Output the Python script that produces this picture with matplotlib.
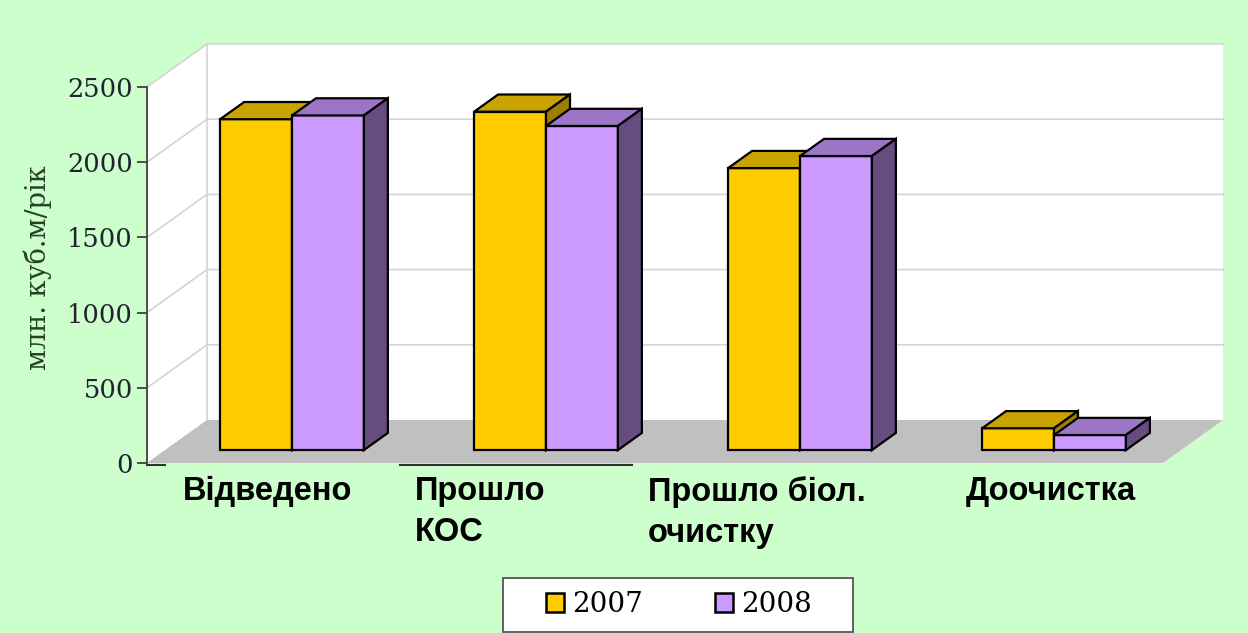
import matplotlib.pyplot as plt
from matplotlib.patches import Polygon, Patch, Rectangle
from matplotlib.transforms import blended_transform_factory

categories = ["Відведено", "Прошло\nКОС", "Прошло біол.\nочистку", "Доочистка"]
years = ["2007", "2008"]
values_2007 = [2200, 2250, 1875, 145]
values_2008 = [2225, 2155, 1955, 100]
yticks = [0, 500, 1000, 1500, 2000, 2500]

front_cols = ["#FFCC00", "#CC99FF"]
top_cols = ["#C9A300", "#9C75C6"]
side_cols = ["#9E8000", "#664C7F"]

bg = "#CCFFCC"
fig = plt.figure(figsize=(12.48, 6.33), dpi=100, facecolor=bg)
ax = fig.add_axes([147 / 1248, 1 - 463 / 633, 1016 / 1248, 376 / 633])
ax.set_xlim(0, 4)
ax.set_ylim(0, 2500)
ax.set_facecolor("none")

# depth offset of the 3d box, in data units
DX = 60 / (1016 / 4)
DY = 43 / (376 / 2500)


def pt(x, y, z):
    return (x + z * DX, y + z * DY)


def poly(pts, fc, ec="none", lw=0, z=1):
    ax.add_patch(Polygon(pts, closed=True, facecolor=fc, edgecolor=ec,
                         linewidth=lw, zorder=z, clip_on=False, joinstyle="miter"))


ymax = yticks[-1]
# walls
poly([pt(0, 0, 1), pt(4, 0, 1), pt(4, ymax, 1), pt(0, ymax, 1)], "white", z=0.5)
poly([pt(0, 0, 0), pt(0, ymax, 0), pt(0, ymax, 1), pt(0, 0, 1)], "white", z=0.5)
for v in yticks[1:]:
    xs, ys = zip(pt(0, v, 0), pt(0, v, 1), pt(4, v, 1))
    ax.plot(xs, ys, color="#D4D4D4", lw=1.2, zorder=0.6, clip_on=False)
xs, ys = zip(pt(0, 0, 1), pt(0, ymax, 1))
ax.plot(xs, ys, color="#D4D4D4", lw=1.2, zorder=0.6, clip_on=False)
# floor
poly([pt(0, 0, 0), pt(4, 0, 0), pt(4, 0, 1), pt(0, 0, 1)], "#C0C0C0", z=0.7)

# bars
bw = 0.283
z0, z1 = 0.3, 0.7
for i in range(len(categories)):
    for j, vals in enumerate([values_2007, values_2008]):
        x0 = i + 0.5 - bw + j * bw
        x1 = x0 + bw
        h = vals[i]
        zz = 2 + i + j * 0.1
        poly([pt(x0, 0, z0), pt(x1, 0, z0), pt(x1, h, z0), pt(x0, h, z0)],
             front_cols[j], "black", 1.6, zz)
        poly([pt(x0, h, z0), pt(x1, h, z0), pt(x1, h, z1), pt(x0, h, z1)],
             top_cols[j], "black", 1.6, zz)
        poly([pt(x1, 0, z0), pt(x1, 0, z1), pt(x1, h, z1), pt(x1, h, z0)],
             side_cols[j], "black", 1.6, zz)

# axes
for s in ["top", "right", "bottom"]:
    ax.spines[s].set_visible(False)
ax.spines["left"].set_color("#404040")
ax.spines["left"].set_linewidth(1.3)
ax.set_xticks([])
ax.set_yticks(yticks)
ax.set_yticklabels([str(t) for t in yticks], fontsize=18.5, family="DejaVu Serif",
                   color="#222233")
ax.tick_params(axis="y", direction="out", length=7, width=1.3, color="#404040", pad=3)

for seg in [(0, 0.07), (0.996, 1.909)]:
    ax.plot(seg, [-13, -13], color="#333333", lw=1.5, clip_on=False, zorder=1)

fig.text(38 / 1248, 1 - 268 / 633, "млн. куб.м/рік", rotation=90, ha="center",
         va="center", fontsize=19.5, family="DejaVu Serif", color="#264026")

trans = blended_transform_factory(ax.transData, fig.transFigure)
label_x = [0.142, 1.055, 1.972, 3.224]
for x, lab in zip(label_x, categories):
    ax.text(x, 1 - 476 / 633, lab, transform=trans, ha="left", va="top",
            fontsize=23.5, fontweight="bold", family="Liberation Sans",
            linespacing=1.4, color="black")

# legend box
fig.patches.append(Rectangle((503 / 1248, 1 - 632 / 633), 350 / 1248, 54 / 633,
                             transform=fig.transFigure, facecolor="white",
                             edgecolor="#555555", linewidth=1.3, zorder=5))
handles = [Patch(facecolor=c, edgecolor="black", linewidth=1.8) for c in front_cols]
leg = fig.legend(handles, years, loc="center", ncol=2,
                 bbox_to_anchor=(679 / 1248, 1 - 605 / 633),
                 prop={"family": "DejaVu Serif", "size": 20},
                 frameon=False, handlelength=0.65, handleheight=0.65,
                 handletextpad=0.3, columnspacing=2.6, borderaxespad=0)
leg.set_zorder(6)

fig.savefig("out.png", dpi=100, facecolor=bg)
